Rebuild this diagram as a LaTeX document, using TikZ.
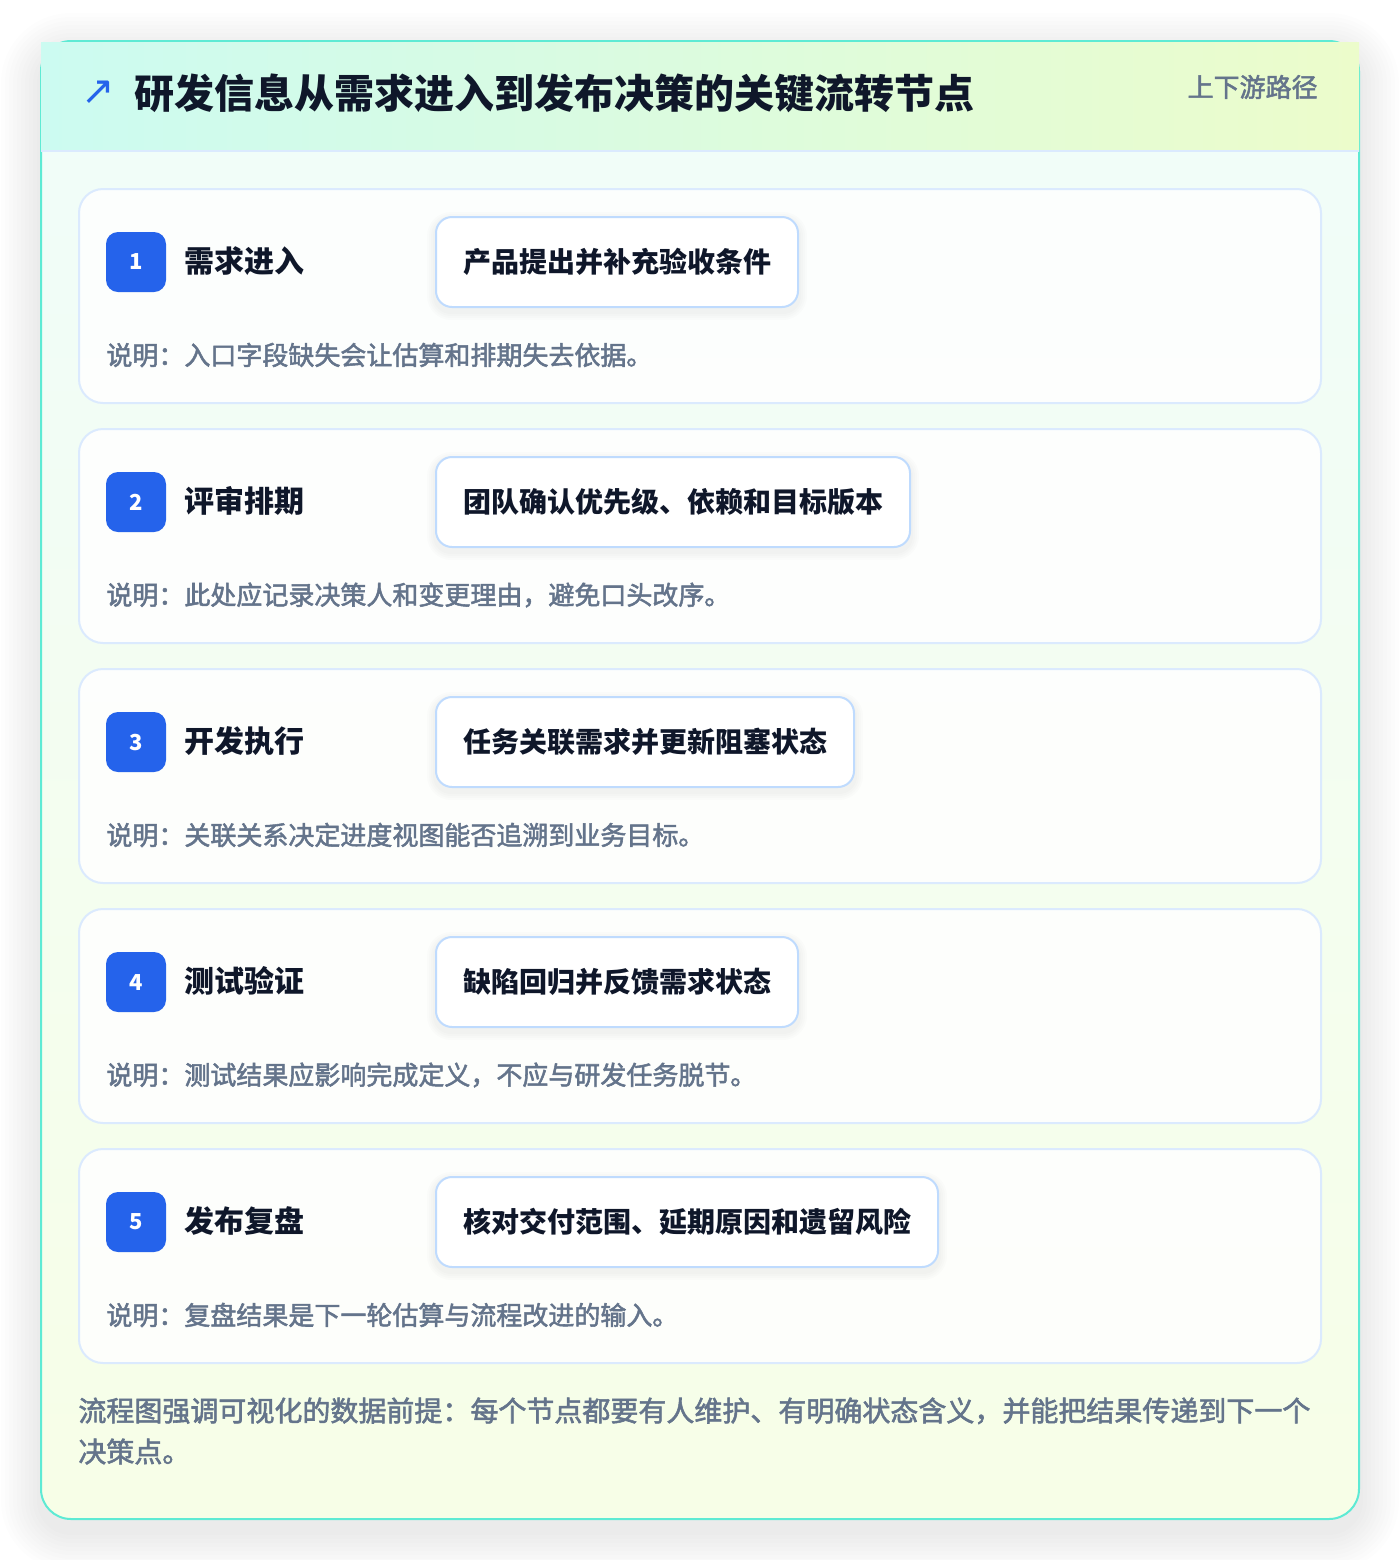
\documentclass[tikz,border=0pt]{standalone}
\usepackage{fontspec}
\setmainfont{Noto Sans CJK SC}
\newfontfamily\semifont{Noto Sans CJK SC}[FakeBold=2]
\newfontfamily\symfont{DejaVu Sans}
\usetikzlibrary{
		calc,
		positioning
	}
\definecolor{teal-edge}{HTML}{5EEAD4}
\definecolor{head-l}{HTML}{CCFBF1}
\definecolor{head-r}{HTML}{ECFCCB}
\definecolor{body-t}{HTML}{F0FDFA}
\definecolor{body-b}{HTML}{F7FEE7}
\definecolor{card-edge}{HTML}{DBEAFE}
\definecolor{box-edge}{HTML}{BFDBFE}
\definecolor{badge-blue}{HTML}{2563EB}
\definecolor{ink}{HTML}{0F172A}
\definecolor{slate}{HTML}{64748B}
\tikzset{
		card/.style={draw=card-edge, line width=1pt, fill=white, fill opacity=0.85, rounded corners=12pt},
		badge/.style={fill=badge-blue, rounded corners=6pt},
		num/.style={inner sep=0pt, text=white, font=\fontsize{11}{13}\selectfont\bfseries},
		steptitle/.style={anchor=west, inner sep=0pt, text=ink, font=\fontsize{15}{18}\selectfont\bfseries},
		actbox/.style={anchor=west, draw=box-edge, line width=1pt, fill=white, rounded corners=8pt,
			minimum height=45pt, inner xsep=13.5pt, text=ink, font=\fontsize{14}{17}\selectfont\bfseries},
		note/.style={anchor=west, inner sep=0pt, text=slate, font=\semifont\fontsize{13}{16}\selectfont},
		haze/.style={fill=black, fill opacity=0.012}
	}
% soft shadow under a step box: #1 = box node
\newcommand{\boxhaze}[1]{%
	\foreach \g in {2,4,6,8}
		\fill[haze, rounded corners=8pt+\g*0.5pt] ($(#1.south west)+(-\g,\g+4)$) rectangle ($(#1.north east)+(\g,-\g+4)$);
}

\begin{document}
\begin{tikzpicture}[x=0.5pt, y=-0.5pt]
		\useasboundingbox[fill=white] (0,0) rectangle (1400,1560);
		% outer panel
		\foreach \g in {4,8,...,40}
			\fill[haze, fill opacity=0.008, rounded corners=15pt+\g*0.5pt] (41-\g,41-\g+12) rectangle (1359+\g,1519+\g+12);
		\shade[top color=body-t, bottom color=body-b, rounded corners=15pt] (41,41) rectangle (1359,1519);
		\draw[teal-edge, line width=1pt, rounded corners=15pt] (41,41) rectangle (1359,1519);
		\shade[left color=head-l, right color=head-r] (41,42) rectangle (1359,151);
		\draw[card-edge, line width=1pt] (41,151) -- (1359,151);
		\node[inner sep=0pt, text=badge-blue, font=\symfont\fontsize{20}{20}\selectfont] (icon) at (98,93) {↗};
		\node[anchor=west, inner sep=0pt, text=ink, font=\fontsize{20}{24}\selectfont\bfseries] (title) at (134,93) {研发信息从需求进入到发布决策的关键流转节点};
		\node[anchor=east, inner sep=0pt, text=slate, font=\semifont\fontsize{13}{16}\selectfont] (path) at (1318,87) {上下游路径};

		% step 1
		\draw[card] (79,189) rectangle (1321,403);
		\fill[badge] (106,232) rectangle (166,292); \node[num] (n1) at (136,262) {1};
		\node[steptitle] (t1) at (184,261) {需求进入};
		\path node[actbox, draw=none, fill=none, text opacity=0] (g1) at (435,262) {产品提出并补充验收条件};
		\boxhaze{g1}
		\node[actbox] (b1) at (435,262) {产品提出并补充验收条件};
		\node[note] (d1) at (106,355) {说明：入口字段缺失会让估算和排期失去依据。};

		% step 2
		\draw[card] (79,429) rectangle (1321,643);
		\fill[badge] (106,472) rectangle (166,532); \node[num] (n2) at (136,502) {2};
		\node[steptitle] (t2) at (184,501) {评审排期};
		\path node[actbox, draw=none, fill=none, text opacity=0] (g2) at (435,502) {团队确认优先级、依赖和目标版本};
		\boxhaze{g2}
		\node[actbox] (b2) at (435,502) {团队确认优先级、依赖和目标版本};
		\node[note] (d2) at (106,595) {说明：此处应记录决策人和变更理由，避免口头改序。};

		% step 3
		\draw[card] (79,669) rectangle (1321,883);
		\fill[badge] (106,712) rectangle (166,772); \node[num] (n3) at (136,742) {3};
		\node[steptitle] (t3) at (184,741) {开发执行};
		\path node[actbox, draw=none, fill=none, text opacity=0] (g3) at (435,742) {任务关联需求并更新阻塞状态};
		\boxhaze{g3}
		\node[actbox] (b3) at (435,742) {任务关联需求并更新阻塞状态};
		\node[note] (d3) at (106,835) {说明：关联关系决定进度视图能否追溯到业务目标。};

		% step 4
		\draw[card] (79,909) rectangle (1321,1123);
		\fill[badge] (106,952) rectangle (166,1012); \node[num] (n4) at (136,982) {4};
		\node[steptitle] (t4) at (184,981) {测试验证};
		\path node[actbox, draw=none, fill=none, text opacity=0] (g4) at (435,982) {缺陷回归并反馈需求状态};
		\boxhaze{g4}
		\node[actbox] (b4) at (435,982) {缺陷回归并反馈需求状态};
		\node[note] (d4) at (106,1075) {说明：测试结果应影响完成定义，不应与研发任务脱节。};

		% step 5
		\draw[card] (79,1149) rectangle (1321,1363);
		\fill[badge] (106,1192) rectangle (166,1252); \node[num] (n5) at (136,1222) {5};
		\node[steptitle] (t5) at (184,1221) {发布复盘};
		\path node[actbox, draw=none, fill=none, text opacity=0] (g5) at (435,1222) {核对交付范围、延期原因和遗留风险};
		\boxhaze{g5}
		\node[actbox] (b5) at (435,1222) {核对交付范围、延期原因和遗留风险};
		\node[note] (d5) at (106,1315) {说明：复盘结果是下一轮估算与流程改进的输入。};

		% footer
		\node[anchor=west, inner sep=0pt, align=left, text=slate, font=\semifont\fontsize{14}{20.5}\selectfont] (foot) at (78,1431) {流程图强调可视化的数据前提：每个节点都要有人维护、有明确状态含义，并能把结果传递到下一个\\决策点。};
	\end{tikzpicture}
\end{document}
